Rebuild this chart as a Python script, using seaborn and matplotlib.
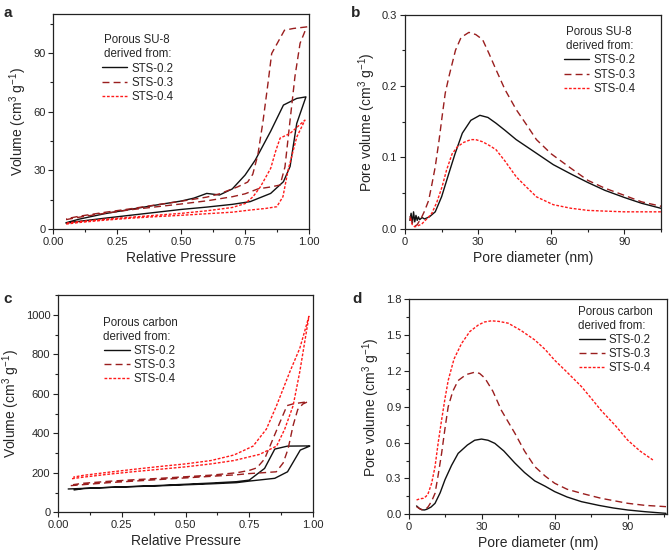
import matplotlib
matplotlib.use("Agg")
import matplotlib.pyplot as plt
import matplotlib.ticker as mticker
from matplotlib.lines import Line2D
import seaborn as sns
import pandas as pd

sns.set_theme(style="ticks")
plt.rcParams['font.family'] = ['Liberation Sans', 'DejaVu Sans']
plt.rcParams['mathtext.fontset'] = 'custom'
plt.rcParams['mathtext.rm'] = 'Liberation Sans'
plt.rcParams['mathtext.it'] = 'Liberation Sans:italic'

labels = ["STS-0.2", "STS-0.3", "STS-0.4"]
colors = ["#111111", "#9a1e1e", "#ff1a1a"]
styles = ["-", (0, (5, 3)), (0, (2, 1.2))]

# ---- panel a: porous SU-8 isotherms (adsorption / desorption) ----
a02_ads_p = [0.05, 0.1, 0.2, 0.3, 0.4, 0.5, 0.6, 0.7, 0.77, 0.85, 0.9, 0.926, 0.952, 0.988]
a02_ads_v = [3.0, 3.9, 5.5, 7.0, 8.5, 10.0, 11.2, 12.6, 14.0, 18.2, 24.2, 32.0, 54.0, 67.6]
a02_des_p = [0.988, 0.952, 0.9, 0.85, 0.79, 0.75, 0.7, 0.65, 0.6, 0.55, 0.5, 0.4, 0.3, 0.2, 0.1, 0.05]
a02_des_v = [67.6, 66.8, 63.4, 50.0, 35.3, 27.6, 20.5, 17.4, 18.2, 15.8, 14.3, 12.2, 10.0, 7.8, 5.0, 3.2]

a03_ads_p = [0.05, 0.1, 0.2, 0.3, 0.4, 0.5, 0.6, 0.7, 0.75, 0.8, 0.85, 0.887, 0.906, 0.926, 0.945, 0.965, 0.991]
a03_ads_v = [4.8, 6.0, 8.0, 9.8, 11.3, 12.8, 14.4, 16.5, 18.0, 20.5, 21.5, 22.5, 31.8, 55.7, 78.0, 95.0, 103.4]
a03_des_p = [0.991, 0.939, 0.904, 0.854, 0.84, 0.82, 0.8, 0.78, 0.76, 0.72, 0.65, 0.6, 0.5, 0.4, 0.3, 0.2, 0.1, 0.05]
a03_des_v = [103.4, 102.6, 101.7, 89.8, 75.0, 55.0, 38.0, 28.0, 24.0, 21.5, 18.0, 16.3, 14.2, 12.3, 10.3, 8.5, 6.5, 5.2]

a04_ads_p = [0.05, 0.1, 0.2, 0.3, 0.4, 0.5, 0.6, 0.7, 0.77, 0.83, 0.874, 0.898, 0.918, 0.952, 0.984]
a04_ads_v = [2.5, 3.3, 4.5, 5.5, 6.3, 7.0, 7.8, 8.6, 9.7, 10.5, 11.4, 16.5, 30.0, 47.0, 55.7]
a04_des_p = [0.984, 0.926, 0.887, 0.87, 0.85, 0.81, 0.781, 0.75, 0.7, 0.6, 0.5, 0.4, 0.3, 0.2, 0.1, 0.05]
a04_des_v = [55.7, 48.9, 46.5, 40.0, 31.0, 21.6, 16.5, 13.0, 11.0, 9.3, 8.0, 7.0, 6.0, 5.0, 3.8, 3.0]

# ---- panel b: porous SU-8 pore size distribution ----
b02_d = [2.0, 2.5, 3.0, 3.5, 4.0, 4.5, 5.0, 5.5, 6.0, 7.0, 8.0, 10, 12.4, 15, 18, 20.5, 23.5, 27, 30.7, 34,
         37.3, 41, 45.6, 53, 60.8, 68, 75, 82, 90, 97, 106]
b02_v = [0.012, 0.022, 0.008, 0.024, 0.010, 0.019, 0.012, 0.017, 0.013, 0.016, 0.014, 0.017, 0.024, 0.045,
         0.078, 0.105, 0.134, 0.152, 0.159, 0.156, 0.148, 0.138, 0.125, 0.108, 0.090, 0.077, 0.065, 0.054,
         0.044, 0.036, 0.028]
b03_d = [2, 3, 4, 5, 6.9, 8, 9.7, 11, 12.4, 14, 15.2, 16.5, 18, 20.7, 23, 26.2, 29, 31.8, 34.5, 37.3, 41,
         45.6, 50, 53.9, 60, 68, 75, 82, 90, 97, 106]
b03_v = [0.018, 0.010, 0.004, 0.006, 0.017, 0.025, 0.04, 0.062, 0.087, 0.125, 0.157, 0.19, 0.213, 0.25,
         0.268, 0.275, 0.272, 0.265, 0.245, 0.223, 0.195, 0.167, 0.145, 0.125, 0.105, 0.085, 0.068, 0.057,
         0.047, 0.038, 0.031]
b04_d = [2, 3, 4, 5, 6.9, 8, 9.5, 11, 13, 15.2, 17, 19.3, 21.5, 24, 27, 29, 31.8, 34.5, 37.3, 41, 45.6, 50,
         53.9, 60.8, 68, 75, 82, 90, 97, 106]
b04_v = [0.015, 0.006, 0.003, 0.004, 0.007, 0.011, 0.016, 0.022, 0.037, 0.059, 0.082, 0.105, 0.115, 0.121,
         0.125, 0.125, 0.122, 0.117, 0.111, 0.095, 0.073, 0.058, 0.045, 0.034, 0.029, 0.026, 0.025, 0.024,
         0.024, 0.024]

# ---- panel c: porous carbon isotherms ----
c02_ads_p = [0.04, 0.1, 0.2, 0.3, 0.4, 0.5, 0.6, 0.7, 0.75, 0.85, 0.9, 0.95, 0.987]
c02_ads_v = [118, 121, 126, 130, 134, 139, 144, 150, 158, 172, 205, 315, 335]
c02_des_p = [0.987, 0.9, 0.85, 0.81, 0.75, 0.7, 0.6, 0.5, 0.4, 0.3, 0.2, 0.1, 0.063]
c02_des_v = [336, 335, 320, 222, 163, 155, 148, 142, 136, 131, 126, 120, 113]

c03_ads_p = [0.05, 0.1, 0.2, 0.3, 0.4, 0.5, 0.6, 0.7, 0.75, 0.8, 0.856, 0.883, 0.902, 0.922, 0.94, 0.96, 0.98]
c03_ads_v = [135, 140, 150, 158, 166, 174, 182, 190, 196, 200, 205, 250, 320, 440, 520, 548, 560]
c03_des_p = [0.98, 0.922, 0.898, 0.87, 0.837, 0.81, 0.78, 0.75, 0.7, 0.6, 0.5, 0.4, 0.3, 0.2, 0.1, 0.06]
c03_des_v = [560, 549, 540, 455, 353, 270, 225, 212, 200, 188, 180, 172, 165, 157, 147, 140]

c04_ads_p = [0.055, 0.1, 0.2, 0.3, 0.4, 0.5, 0.6, 0.69, 0.79, 0.857, 0.889, 0.922, 0.948, 0.984]
c04_ads_v = [170, 178, 193, 206, 218, 230, 245, 262, 293, 335, 421, 540, 711, 992]
c04_des_p = [0.984, 0.948, 0.909, 0.857, 0.817, 0.765, 0.69, 0.6, 0.5, 0.4, 0.3, 0.2, 0.1, 0.06]
c04_des_v = [992, 830, 711, 540, 421, 335, 290, 262, 245, 232, 218, 203, 187, 178]

# ---- panel d: porous carbon pore size distribution ----
d02_d = [3.1, 4.2, 5.2, 6.3, 7.3, 9, 10.7, 12.8, 14.8, 17.5, 20.2, 24, 27, 29.8, 32.5, 35.3, 39, 43.5, 47.5,
         51.7, 56, 59.9, 65, 70.9, 78, 84, 90, 97, 105.7]
d02_v = [0.07, 0.05, 0.038, 0.036, 0.042, 0.06, 0.092, 0.18, 0.29, 0.41, 0.51, 0.58, 0.62, 0.63, 0.62, 0.594,
         0.53, 0.43, 0.35, 0.28, 0.235, 0.19, 0.145, 0.106, 0.075, 0.053, 0.036, 0.022, 0.008]
d03_d = [3.1, 4.5, 5.9, 7.0, 7.9, 9.3, 10.7, 12, 13.4, 14.8, 16.1, 18, 20.2, 23.5, 27.1, 29, 31.2, 34.5, 38,
         43.5, 47.5, 51.7, 56, 59.9, 65, 70.9, 79, 90, 97, 105.7]
d03_v = [0.064, 0.045, 0.036, 0.045, 0.064, 0.11, 0.176, 0.33, 0.51, 0.72, 0.9, 1.03, 1.12, 1.17, 1.19, 1.18,
         1.14, 1.03, 0.87, 0.68, 0.53, 0.4, 0.32, 0.26, 0.21, 0.176, 0.134, 0.092, 0.075, 0.064]
d04_d = [3.1, 4.5, 5.9, 7.0, 7.9, 9.3, 10.7, 12, 13.4, 14.8, 16.1, 18.5, 21.6, 25, 28.5, 31, 33.9, 37, 40.8,
         46, 51.7, 56, 59.9, 65, 70.9, 75, 79, 85, 90, 95, 100.3]
d04_v = [0.12, 0.13, 0.134, 0.15, 0.176, 0.26, 0.4, 0.6, 0.79, 0.97, 1.12, 1.3, 1.43, 1.53, 1.585, 1.61, 1.62,
         1.615, 1.6, 1.54, 1.46, 1.38, 1.29, 1.19, 1.07, 0.97, 0.87, 0.74, 0.62, 0.53, 0.455]


def draw(ax, xs, ys, i):
    df = pd.DataFrame({"x": xs, "y": ys})
    sns.lineplot(data=df, x="x", y="y", ax=ax, sort=False, estimator=None,
                 color=colors[i], linestyle=styles[i], linewidth=1.0)


def loop(ax, ads_p, ads_v, des_p, des_v, i):
    draw(ax, ads_p + des_p, ads_v + des_v, i)


def style_ax(ax, xlim, xmaj, ylim, ymaj, xlabel, ylabel, xfmt, yfmt):
    ax.set_xlim(*xlim)
    ax.set_ylim(*ylim)
    ax.xaxis.set_major_locator(mticker.MultipleLocator(xmaj))
    ax.xaxis.set_minor_locator(mticker.MultipleLocator(xmaj / 2))
    ax.yaxis.set_major_locator(mticker.MultipleLocator(ymaj))
    ax.yaxis.set_minor_locator(mticker.MultipleLocator(ymaj / 2))
    ax.xaxis.set_major_formatter(mticker.FormatStrFormatter(xfmt))
    ax.yaxis.set_major_formatter(mticker.FormatStrFormatter(yfmt))
    ax.tick_params(which="major", length=3.5, width=0.8, labelsize=8, pad=2, color="#222222")
    ax.tick_params(which="minor", length=2.2, width=0.8, color="#222222")
    ax.set_xlabel(xlabel, fontsize=10, labelpad=3)
    ax.set_ylabel(ylabel, fontsize=10, labelpad=3)
    for s in ax.spines.values():
        s.set_linewidth(0.9)
        s.set_color("#222222")


def legend(ax, title, anchor):
    handles = [Line2D([], [], color=colors[i], linestyle=styles[i], linewidth=1.0) for i in range(3)]
    ax.legend(handles, labels, title=title, loc="upper left", bbox_to_anchor=anchor, frameon=False,
              fontsize=8.3, title_fontproperties={"size": 8.3}, handlelength=2.2, handletextpad=0.35,
              labelspacing=0.2, borderpad=0, borderaxespad=0)


fig = plt.figure(figsize=(6.69, 5.60), dpi=100)
ax_a = fig.add_axes([0.0797, 0.5911, 0.3822, 0.3839])
ax_b = fig.add_axes([0.6054, 0.5911, 0.3827, 0.3830])
ax_c = fig.add_axes([0.0867, 0.0852, 0.3812, 0.3880])
ax_d = fig.add_axes([0.6114, 0.0816, 0.3852, 0.3839])

vol = "Volume (cm$^{3}$ g$^{-1}$)"
pore = "Pore volume (cm$^{3}$ g$^{-1}$)"

loop(ax_a, a02_ads_p, a02_ads_v, a02_des_p, a02_des_v, 0)
loop(ax_a, a03_ads_p, a03_ads_v, a03_des_p, a03_des_v, 1)
loop(ax_a, a04_ads_p, a04_ads_v, a04_des_p, a04_des_v, 2)
style_ax(ax_a, (0, 1), 0.25, (0, 110), 30, "Relative Pressure", vol, "%.2f", "%d")
legend(ax_a, "Porous SU-8\nderived from:", (0.19, 0.905))

draw(ax_b, b02_d, b02_v, 0)
draw(ax_b, b03_d, b03_v, 1)
draw(ax_b, b04_d, b04_v, 2)
style_ax(ax_b, (0, 105), 30, (0, 0.3), 0.1, "Pore diameter (nm)", pore, "%d", "%.1f")
legend(ax_b, "Porous SU-8\nderived from:", (0.62, 0.945))

loop(ax_c, c02_ads_p, c02_ads_v, c02_des_p, c02_des_v, 0)
loop(ax_c, c03_ads_p, c03_ads_v, c03_des_p, c03_des_v, 1)
loop(ax_c, c04_ads_p, c04_ads_v, c04_des_p, c04_des_v, 2)
style_ax(ax_c, (0, 1), 0.25, (0, 1100), 200, "Relative Pressure", vol, "%.2f", "%d")
legend(ax_c, "Porous carbon\nderived from:", (0.175, 0.9))

draw(ax_d, d02_d, d02_v, 0)
draw(ax_d, d03_d, d03_v, 1)
draw(ax_d, d04_d, d04_v, 2)
style_ax(ax_d, (0, 106), 30, (0, 1.8), 0.3, "Pore diameter (nm)", pore, "%d", "%.1f")
legend(ax_d, "Porous carbon\nderived from:", (0.655, 0.97))

for x, y, t in [(0.005, 0.99, "a"), (0.524, 0.99, "b"), (0.005, 0.478, "c"), (0.526, 0.478, "d")]:
    fig.text(x, y, t, fontsize=11, fontweight="bold", va="top", ha="left")

fig.savefig("out.png", dpi=100)
